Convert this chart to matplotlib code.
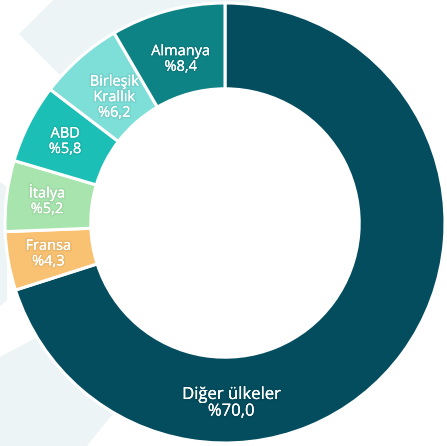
import numpy as np
import matplotlib
matplotlib.use("Agg")
import matplotlib.pyplot as plt
from matplotlib.patches import Polygon
import matplotlib.patheffects as pe


# veri
ulkeler = ["Diğer ülkeler", "Fransa", "İtalya", "ABD", "Birleşik\nKrallık", "Almanya"]
paylar = [70.0, 4.3, 5.2, 5.8, 6.2, 8.4]
renkler = ["#034d5e", "#f9c272", "#a8e5ae", "#1cbfb5", "#7ddfd8", "#0e8385"]

# etiketlerin halka uzerindeki konumu (dis yaricapa oran), "Diger" alta alinir
ETIKET_R = [0.82, 0.815, 0.815, 0.815, 0.76, 0.77]
ETIKET_ACI = [-88, None, None, None, None, None]
ETIKET_BOY = [12, 10.5, 10.5, 10.5, 10.5, 10.5]

W, H = 447, 446
CX, CY, R = 225, 446 - 223, 220
HALKA = 0.39

plt.rcParams["font.family"] = ["Open Sans", "DejaVu Sans"]

fig = plt.figure(figsize=(W / 100, H / 100), dpi=100, facecolor="white")
ax = fig.add_axes([0, 0, 1, 1])

# arka plandaki acik renkli sekiller (ust-sol koordinat)
arka = [
    [(19, 34), (53, 0), (250, 0), (250, 10), (95, 110)],
    [(0, 357), (60, 325), (160, 385), (110, 417), (87, 446), (0, 446)],
    [(0, 182), (7, 187), (7, 300), (0, 306)],
]
for sekil in arka:
    ax.add_patch(Polygon([(x, H - y) for x, y in sekil], closed=True,
                         facecolor="#edf4f6", edgecolor="none", zorder=0))

wedges, _ = ax.pie(
    paylar,
    colors=renkler,
    startangle=90,
    counterclock=False,
    center=(CX, CY),
    radius=R,
    frame=True,
    wedgeprops=dict(width=R * HALKA, edgecolor="white", linewidth=2.2),
)
ax.set_xlim(0, W)
ax.set_ylim(0, H)
ax.set_aspect("equal")
ax.axis("off")

for w, ad, pay, rr, aci, boy in zip(wedges, ulkeler, paylar, ETIKET_R, ETIKET_ACI, ETIKET_BOY):
    if aci is None:
        aci = (w.theta1 + w.theta2) / 2
    aci = np.deg2rad(aci)
    x = CX + R * rr * np.cos(aci)
    y = CY + R * rr * np.sin(aci)
    etiket = f"{ad}\n%{pay:.1f}".replace(".", ",")
    ax.text(x, y, etiket, ha="center", va="center", color="white",
            fontsize=boy, linespacing=1.05, zorder=5,
            path_effects=[pe.withStroke(linewidth=2.5, foreground=(0, 0, 0, 0.05)),
                          pe.Normal()])

fig.savefig("out.png", dpi=100, facecolor="white")
